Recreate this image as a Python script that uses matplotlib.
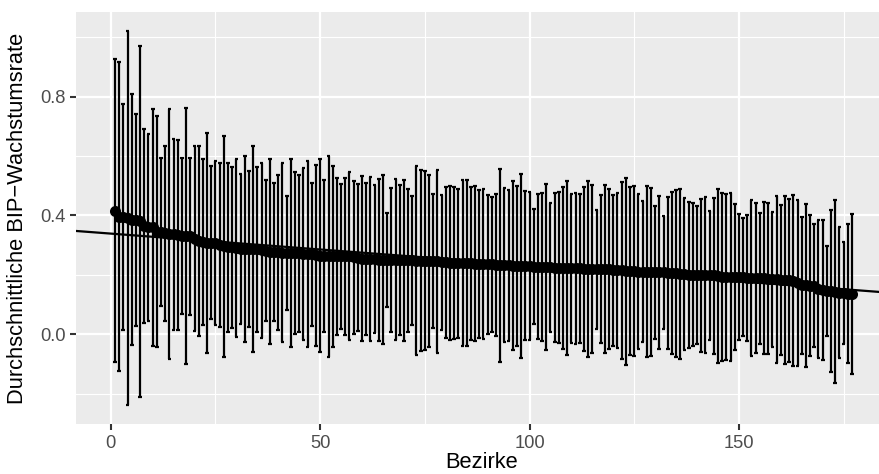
import numpy as np
import matplotlib
matplotlib.use("Agg")
import matplotlib.pyplot as plt
from matplotlib.ticker import MultipleLocator

plt.rcParams.update({
    "font.family": ["Liberation Sans", "DejaVu Sans"],
    "axes.unicode_minus": True,
})

# average growth rate per district (sorted), with interval bounds
mean = [
    0.416, 0.396, 0.394, 0.392, 0.386, 0.386, 0.380, 0.366, 0.360, 0.360,
    0.346, 0.345, 0.340, 0.339, 0.337, 0.334, 0.331, 0.330, 0.330, 0.322,
    0.313, 0.310, 0.308, 0.308, 0.306, 0.301, 0.296, 0.294, 0.293, 0.290,
    0.287, 0.287, 0.287, 0.287, 0.286, 0.283, 0.282, 0.278, 0.277, 0.276,
    0.275, 0.275, 0.274, 0.274, 0.272, 0.271, 0.271, 0.269, 0.266, 0.265,
    0.265, 0.263, 0.263, 0.262, 0.262, 0.262, 0.262, 0.260, 0.258, 0.255,
    0.254, 0.254, 0.254, 0.251, 0.251, 0.251, 0.251, 0.251, 0.250, 0.250,
    0.249, 0.249, 0.248, 0.248, 0.248, 0.247, 0.246, 0.246, 0.242, 0.242,
    0.241, 0.241, 0.240, 0.240, 0.240, 0.239, 0.237, 0.237, 0.236, 0.235,
    0.235, 0.233, 0.233, 0.233, 0.232, 0.231, 0.231, 0.230, 0.230, 0.230,
    0.228, 0.228, 0.227, 0.226, 0.225, 0.224, 0.224, 0.223, 0.223, 0.223,
    0.222, 0.222, 0.221, 0.220, 0.220, 0.220, 0.219, 0.219, 0.219, 0.216,
    0.215, 0.215, 0.212, 0.212, 0.212, 0.211, 0.211, 0.211, 0.210, 0.209,
    0.209, 0.209, 0.206, 0.206, 0.205, 0.203, 0.203, 0.201, 0.201, 0.200,
    0.199, 0.199, 0.198, 0.198, 0.197, 0.194, 0.193, 0.193, 0.193, 0.193,
    0.193, 0.190, 0.190, 0.190, 0.188, 0.188, 0.187, 0.186, 0.186, 0.183,
    0.183, 0.182, 0.181, 0.173, 0.166, 0.165, 0.164, 0.164, 0.152, 0.150,
    0.146, 0.146, 0.144, 0.140, 0.140, 0.137, 0.136,
]
upper = [
    0.927, 0.916, 0.774, 1.022, 0.808, 0.743, 0.971, 0.692, 0.675, 0.758,
    0.734, 0.593, 0.634, 0.760, 0.659, 0.654, 0.594, 0.761, 0.594, 0.633,
    0.633, 0.589, 0.679, 0.566, 0.582, 0.577, 0.669, 0.578, 0.563, 0.590,
    0.540, 0.599, 0.550, 0.634, 0.562, 0.578, 0.518, 0.589, 0.508, 0.536,
    0.577, 0.467, 0.591, 0.548, 0.535, 0.561, 0.583, 0.508, 0.570, 0.589,
    0.521, 0.599, 0.567, 0.525, 0.505, 0.525, 0.545, 0.517, 0.505, 0.532,
    0.509, 0.530, 0.504, 0.524, 0.536, 0.409, 0.492, 0.522, 0.504, 0.521,
    0.490, 0.466, 0.567, 0.553, 0.550, 0.535, 0.472, 0.553, 0.468, 0.496,
    0.500, 0.496, 0.490, 0.521, 0.518, 0.496, 0.498, 0.486, 0.489, 0.468,
    0.461, 0.473, 0.558, 0.493, 0.486, 0.515, 0.499, 0.539, 0.481, 0.479,
    0.421, 0.473, 0.476, 0.505, 0.441, 0.475, 0.479, 0.497, 0.516, 0.473,
    0.477, 0.472, 0.496, 0.515, 0.503, 0.420, 0.468, 0.503, 0.488, 0.469,
    0.476, 0.513, 0.527, 0.495, 0.498, 0.471, 0.448, 0.498, 0.493, 0.433,
    0.467, 0.399, 0.463, 0.480, 0.486, 0.489, 0.458, 0.446, 0.443, 0.432,
    0.457, 0.461, 0.414, 0.460, 0.489, 0.477, 0.472, 0.476, 0.440, 0.405,
    0.392, 0.402, 0.453, 0.441, 0.408, 0.445, 0.441, 0.413, 0.467, 0.434,
    0.465, 0.456, 0.469, 0.453, 0.396, 0.439, 0.402, 0.371, 0.384, 0.386,
    0.297, 0.419, 0.452, 0.361, 0.312, 0.371, 0.405,
]
lower = [
    -0.094, -0.125, 0.015, -0.239, -0.036, 0.028, -0.212, 0.039, 0.045, -0.039,
    -0.042, 0.096, 0.045, -0.083, 0.015, 0.015, 0.067, -0.101, 0.066, 0.011,
    -0.007, 0.030, -0.063, 0.052, 0.031, 0.024, -0.077, 0.009, 0.022, -0.010,
    0.034, -0.026, 0.025, -0.061, 0.009, -0.013, 0.045, -0.033, 0.045, 0.016,
    -0.027, 0.083, -0.044, 0.001, 0.009, -0.019, -0.042, 0.029, -0.039, -0.060,
    0.009, -0.075, -0.042, -0.001, 0.019, -0.002, -0.020, 0.002, 0.011, -0.023,
    -0.001, -0.022, 0.004, -0.023, -0.034, 0.092, 0.009, -0.019, -0.003, -0.022,
    0.008, 0.031, -0.071, -0.057, -0.054, -0.042, 0.020, -0.062, 0.016, -0.011,
    -0.018, -0.015, -0.011, -0.040, -0.038, -0.018, -0.024, -0.013, -0.017, 0.002,
    0.008, -0.007, -0.092, -0.026, -0.022, -0.053, -0.038, -0.079, -0.020, -0.020,
    0.035, -0.017, -0.023, -0.053, 0.008, -0.027, -0.030, -0.051, -0.070, -0.028,
    -0.033, -0.029, -0.055, -0.075, -0.064, 0.019, -0.030, -0.064, -0.048, -0.038,
    -0.046, -0.084, -0.103, -0.071, -0.074, -0.049, -0.027, -0.077, -0.074, -0.015,
    -0.048, 0.018, -0.051, -0.067, -0.077, -0.084, -0.053, -0.045, -0.040, -0.032,
    -0.060, -0.064, -0.018, -0.065, -0.096, -0.089, -0.086, -0.089, -0.054, -0.019,
    -0.006, -0.023, -0.072, -0.062, -0.032, -0.067, -0.067, -0.042, -0.096, -0.069,
    -0.100, -0.092, -0.107, -0.107, -0.065, -0.110, -0.074, -0.044, -0.080, -0.086,
    -0.006, -0.128, -0.165, -0.081, -0.033, -0.098, -0.134,
]
bezirk = np.arange(1, len(mean) + 1)

# regression line
fit_intercept = 0.339
fit_slope = -0.00107

xticks = [0, 50, 100, 150]
yticks = [0.0, 0.4, 0.8]

fig = plt.figure(figsize=(880 / 150, 474 / 150), dpi=150)
# panel runs a little past the right edge of the picture
ax = fig.add_axes([76 / 880, (474 - 424.3) / 474, 812 / 880, 412.6 / 474])
ax.set_facecolor("#EBEBEB")
for s in ax.spines.values():
    s.set_visible(False)

ax.set_xlim(-8.3, 185.6)
ax.set_ylim(-0.303, 1.086)
ax.set_xticks(xticks)
ax.set_yticks(yticks)
ax.set_yticklabels(["%.1f" % v for v in yticks])
ax.xaxis.set_minor_locator(MultipleLocator(25))
ax.yaxis.set_minor_locator(MultipleLocator(0.2))
ax.grid(which="major", color="white", linewidth=1.07)
ax.grid(which="minor", color="white", linewidth=0.53)
ax.set_axisbelow(True)
ax.tick_params(which="major", length=2.75, width=1.0, color="#333333",
               labelsize=8.8, labelcolor="#4D4D4D", pad=2.2)
ax.tick_params(which="minor", length=0)

# error bars
ax.vlines(bezirk, lower, upper, color="black", linewidth=1.07)
ax.hlines(upper, bezirk - 0.45, bezirk + 0.45, color="black", linewidth=1.07)
ax.hlines(lower, bezirk - 0.45, bezirk + 0.45, color="black", linewidth=1.07)
ax.plot(bezirk, mean, "o", color="black", markersize=4.3, zorder=3)
ax.axline((0, fit_intercept), slope=fit_slope, color="black", linewidth=1.07, zorder=4)

ax.set_xlabel("Bezirke", fontsize=10.5, color="black")
ax.set_ylabel("Durchschnittliche BIP\u2212Wachstumsrate", fontsize=10.5, color="black")
ax.xaxis.label.set_va("center")
ax.yaxis.label.set_va("center")
ax.xaxis.set_label_coords(0.5, (424.3 - 462) / 412.6)
ax.yaxis.set_label_coords((18 - 76) / 812, 0.5)

fig.savefig("out.png", dpi=150)
